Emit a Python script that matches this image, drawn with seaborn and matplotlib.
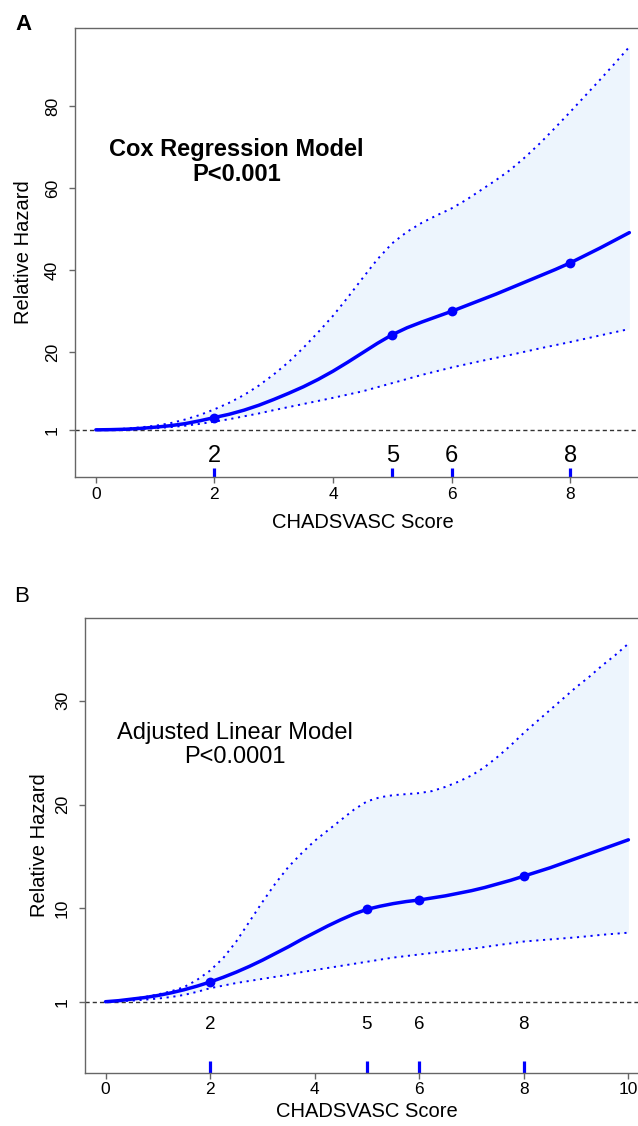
import numpy as np
import pandas as pd
import matplotlib
matplotlib.use("Agg")
import matplotlib.pyplot as plt
import seaborn as sns

# ---------------- data ----------------
score_a = [0, 0.25, 0.5, 0.75, 1, 1.25, 1.5, 1.75, 2, 2.25, 2.5, 2.75, 3, 3.25, 3.5, 3.75,
           4, 4.25, 4.5, 4.75, 5, 5.25, 5.5, 5.75, 6, 6.25, 6.5, 6.75, 7, 7.25, 7.5, 7.75,
           8, 8.25, 8.5, 8.75, 9]
hazard_a = [1, 1.05, 1.15, 1.35, 1.65, 2.0, 2.5, 3.2, 4.0, 4.8, 5.8, 7.0, 8.4, 9.9, 11.5, 13.3,
            15.3, 17.5, 19.8, 22.1, 24.2, 25.9, 27.3, 28.6, 29.9, 31.3, 32.7, 34.1, 35.6, 37.1,
            38.6, 40.1, 41.7, 43.5, 45.3, 47.2, 49.1]
upper_a = [1, 1.1, 1.3, 1.6, 2.0, 2.6, 3.5, 4.6, 6.0, 7.6, 9.5, 11.8, 14.5, 17.5, 21.0, 24.8,
           28.8, 33.3, 38.0, 42.6, 46.5, 49.3, 51.5, 53.3, 55.0, 57.1, 59.5, 61.9, 64.5, 67.6,
           71.0, 74.7, 78.5, 82.4, 86.3, 90.3, 94.4]
lower_a = [1, 1.03, 1.1, 1.22, 1.4, 1.65, 2.0, 2.45, 3.0, 3.6, 4.3, 5.0, 5.8, 6.55, 7.3, 8.05,
           8.8, 9.6, 10.4, 11.4, 12.4, 13.4, 14.4, 15.3, 16.2, 17.0, 17.8, 18.55, 19.3, 20.1,
           20.9, 21.65, 22.4, 23.2, 24.0, 24.8, 25.6]

score_b = [0, 0.25, 0.5, 0.75, 1, 1.25, 1.5, 1.75, 2, 2.25, 2.5, 2.75, 3, 3.25, 3.5, 3.75,
           4, 4.25, 4.5, 4.75, 5, 5.25, 5.5, 5.75, 6, 6.25, 6.5, 6.75, 7, 7.25, 7.5, 7.75,
           8, 8.25, 8.5, 8.75, 9, 9.25, 9.5, 9.75, 10]
hazard_b = [1, 1.1, 1.25, 1.4, 1.6, 1.85, 2.15, 2.5, 2.9, 3.35, 3.85, 4.4, 5.0, 5.65, 6.3, 7.0,
            7.65, 8.3, 8.9, 9.45, 9.9, 10.2, 10.45, 10.65, 10.8, 11.0, 11.2, 11.45, 11.7, 12.0,
            12.35, 12.7, 13.1, 13.5, 13.9, 14.35, 14.8, 15.25, 15.7, 16.15, 16.6]
upper_b = [1, 1.1, 1.25, 1.45, 1.7, 2.0, 2.4, 3.1, 4.0, 5.2, 6.8, 8.7, 10.6, 12.4, 14.0, 15.3,
           16.5, 17.5, 18.5, 19.5, 20.3, 20.7, 20.9, 21.0, 21.1, 21.3, 21.7, 22.2, 22.8, 23.6,
           24.6, 25.7, 26.9, 28.0, 29.1, 30.2, 31.3, 32.3, 33.4, 34.4, 35.5]
lower_b = [1, 1.05, 1.1, 1.2, 1.3, 1.45, 1.65, 1.95, 2.3, 2.55, 2.8, 3.0, 3.2, 3.4, 3.6, 3.85,
           4.05, 4.25, 4.45, 4.65, 4.85, 5.05, 5.25, 5.4, 5.55, 5.7, 5.85, 5.97, 6.1, 6.27,
           6.45, 6.62, 6.8, 6.9, 7.0, 7.1, 7.2, 7.32, 7.45, 7.55, 7.65]

knots = [2, 5, 6, 8]
knot_labels = ["2", "5", "6", "8"]

xticks_a = [0, 2, 4, 6, 8]
yticks_a = [1, 20, 40, 60, 80]
xticks_b = [0, 2, 4, 6, 8, 10]
yticks_b = [1, 10, 20, 30]

title_a = "Cox Regression Model\nP<0.001"
title_b = "Adjusted Linear Model\nP<0.0001"
xlabel = "CHADSVASC Score"
ylabel = "Relative Hazard"

# ---------------- style ----------------
sns.set_style("ticks")
plt.rcParams["font.family"] = ["Liberation Sans", "DejaVu Sans"]
plt.rcParams["text.color"] = "black"
plt.rcParams["axes.labelcolor"] = "black"

W, H = 638, 1126
fig = plt.figure(figsize=(W / 100, H / 100), dpi=100)


def add_axes(l, t, r, b):
    return fig.add_axes([l / W, 1 - b / H, (r - l) / W, (b - t) / H])


BLUE = "#0000FF"
FILL = "#EDF5FD"
SPINE = "#666666"


def draw(ax, x, y, lo, hi, xlim, ylim, xticks, yticks, rug_h, rug_y, rug_fs,
         text, text_xy, text_fs, text_w, ylab_x, xlab_y, panel, panel_xy, panel_w):
    df = pd.DataFrame({"score": x, "hazard": y, "lo": lo, "hi": hi})
    ax.fill_between(df["score"], df["lo"], df["hi"], color=FILL, lw=0, zorder=1)
    sns.lineplot(data=df, x="score", y="hi", ax=ax, color=BLUE, lw=1.4,
                 linestyle=(0, (1.1, 2.4)), zorder=3)
    sns.lineplot(data=df, x="score", y="lo", ax=ax, color=BLUE, lw=1.4,
                 linestyle=(0, (1.1, 2.4)), zorder=3)
    sns.lineplot(data=df, x="score", y="hazard", ax=ax, color=BLUE, lw=2.5, zorder=4)
    kd = df[df["score"].isin(knots)]
    sns.scatterplot(data=kd, x="score", y="hazard", ax=ax, color=BLUE, s=50,
                    edgecolor=BLUE, linewidth=0, zorder=5)
    ax.axhline(1, color="#333333", lw=1.0, ls=(0, (3, 2.2)), zorder=2)
    sns.rugplot(x=knots, ax=ax, height=rug_h, color=BLUE, linewidth=2.3, clip_on=False)
    for k, lab in zip(knots, knot_labels):
        ax.text(k, rug_y, lab, transform=ax.get_xaxis_transform(), ha="center",
                va="center", fontsize=rug_fs, color="black")
    ax.set_xlim(*xlim)
    ax.set_ylim(*ylim)
    ax.set_xticks(xticks)
    ax.set_xticklabels([str(v) for v in xticks])
    ax.set_yticks(yticks)
    ax.set_yticklabels([str(v) for v in yticks], rotation=90, va="center")
    ax.tick_params(axis="both", colors=SPINE, labelcolor="black", length=4,
                   width=1, labelsize=12.5)
    ax.tick_params(axis="x", pad=3)
    ax.tick_params(axis="y", pad=6.5)
    for s in ax.spines.values():
        s.set_color(SPINE)
        s.set_linewidth(1)
    ax.set_xlabel("")
    ax.set_ylabel("")
    ax.text(0.5, xlab_y, xlabel, transform=ax.transAxes, ha="center", va="center",
            fontsize=14.5)
    ax.text(ylab_x, 0.5, ylabel, transform=ax.transAxes, ha="center", va="center",
            fontsize=14.5, rotation=90)
    ax.text(text_xy[0], text_xy[1], text, ha="center", va="center",
            fontsize=text_fs, fontweight=text_w, linespacing=1.15)
    fig.text(panel_xy[0] / W, 1 - panel_xy[1] / H, panel, ha="center", va="center",
             fontsize=16, fontweight=panel_w)


axA = add_axes(74.5, 28, 650.7, 477)
draw(axA, score_a, hazard_a, lower_a, upper_a, (-0.36, 9.36), (-10.5, 99.0),
     xticks_a, yticks_a, 0.02, 0.047, 17, title_a, (2.37, 66.3), 17, "bold",
     -0.0885, -0.102, "A", (23, 24), "bold")

axB = add_axes(84.6, 617.7, 649.3, 1072.7)
draw(axB, score_b, hazard_b, lower_b, upper_b, (-0.4, 10.4), (-5.84, 38.0),
     xticks_b, yticks_b, 0.026, 0.105, 13.5, title_b, (2.48, 25.75), 17, "normal",
     -0.080, -0.086, "B", (22, 596), "normal")

fig.savefig("out.png", dpi=100)
